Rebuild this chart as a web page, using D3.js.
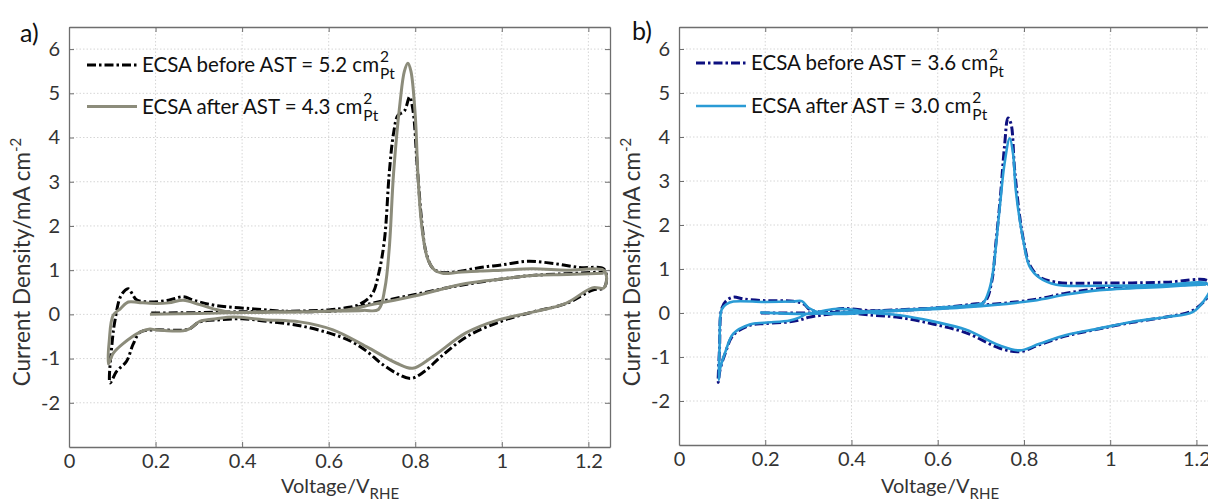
<!DOCTYPE html>
<html><head><meta charset="utf-8">
<script src="https://cdn.jsdelivr.net/npm/d3@7"></script>
<style>body{margin:0;background:#fff} svg{display:block} text{font-family:Lato,"Open Sans",sans-serif;}</style>
</head><body><svg id="c" width="1208" height="504"></svg>
<script>
// ---------- data ----------
const xTicks = [0, 0.2, 0.4, 0.6, 0.8, 1, 1.2];
const yTicks = [-2, -1, 0, 1, 2, 3, 4, 5, 6];
const xDomain = [0, 1.25];
const yDomain = [-3, 6.5];

const legendA = ["ECSA before AST = 5.2 cm", "ECSA after AST = 4.3 cm"];
const legendB = ["ECSA before AST = 3.6 cm", "ECSA after AST = 3.0 cm"];

// Panel a, before AST (voltage V, current density mA cm-2)
const aBeforeV = [0.19,0.3,0.4,0.5,0.6,0.64,0.67,0.7,0.715,0.729,0.74,0.75,0.76,0.775,0.787,0.795,0.805,0.815,0.825,0.84,0.86,0.9,0.95,1.0,1.06,1.12,1.18,1.235,
  1.242,1.236,1.21,1.15,1.07,1.0,0.92,0.86,0.82,0.79,0.76,0.72,0.69,0.65,0.6,0.53,0.45,0.4,0.35,0.3,0.278,0.25,0.2,0.165,0.148,0.133,0.11,0.095,
  0.1,0.106,0.118,0.13,0.137,0.147,0.156,0.187,0.23,0.264,0.285,0.302,0.34,0.418,0.5,0.55,0.6,0.64,0.7,0.8,0.9,1.0,1.07,1.15,1.235];
const aBeforeJ = [0.03,0.04,0.06,0.07,0.1,0.15,0.22,0.45,0.9,1.7,3.2,4.1,4.5,4.6,4.92,4.6,3.3,2.1,1.4,1.05,0.95,0.97,1.06,1.12,1.2,1.15,1.06,1.03,
  0.85,0.6,0.55,0.25,0.05,-0.15,-0.5,-0.95,-1.3,-1.45,-1.35,-1.1,-0.85,-0.6,-0.42,-0.25,-0.15,-0.1,-0.12,-0.18,-0.33,-0.36,-0.35,-0.4,-0.68,-1.06,-1.29,-1.55,
  -0.6,-0.15,0.38,0.55,0.58,0.45,0.33,0.28,0.32,0.4,0.33,0.28,0.2,0.13,0.07,0.06,0.07,0.1,0.25,0.45,0.65,0.8,0.88,0.92,0.96];

// Panel a, after AST
const aAfterV = [0.187,0.3,0.4,0.5,0.6,0.68,0.715,0.73,0.74,0.75,0.765,0.775,0.783,0.79,0.8,0.806,0.812,0.819,0.829,0.845,0.863,0.9,0.95,1.0,1.07,1.15,1.235,
  1.242,1.236,1.209,1.148,1.071,0.994,0.917,0.84,0.794,0.756,0.687,0.61,0.533,0.45,0.38,0.34,0.302,0.278,0.264,0.2,0.187,0.164,0.125,0.102,0.091,
  0.093,0.102,0.118,0.137,0.16,0.187,0.23,0.264,0.302,0.34,0.38,0.45,0.55,0.64,0.7,0.8,0.917,1.0,1.071,1.15,1.235];
const aAfterJ = [0.0,0.02,0.04,0.05,0.07,0.09,0.11,0.6,1.5,3.2,4.8,5.5,5.68,5.5,4.5,3.2,2.3,1.7,1.25,1.0,0.93,0.95,0.98,1.0,1.03,1.0,1.0,
  0.85,0.6,0.6,0.25,0.05,-0.12,-0.42,-0.96,-1.22,-1.1,-0.73,-0.35,-0.17,-0.12,-0.06,-0.1,-0.16,-0.33,-0.37,-0.35,-0.33,-0.4,-0.66,-0.88,-1.12,
  -0.6,-0.02,0.12,0.28,0.27,0.25,0.26,0.32,0.22,0.11,0.04,0.06,0.06,0.1,0.22,0.42,0.7,0.8,0.88,0.9,0.93];

// Panel b, before AST
const bBeforeV = [0.19,0.3,0.4,0.5,0.6,0.68,0.71,0.725,0.735,0.745,0.755,0.763,0.77,0.778,0.79,0.8,0.813,0.836,0.875,0.975,1.13,1.225,
  1.235,1.225,1.19,1.13,1.052,0.975,0.898,0.836,0.79,0.744,0.666,0.589,0.512,0.45,0.38,0.33,0.3,0.28,0.257,0.2,0.164,0.126,0.107,0.095,0.091,
  0.094,0.099,0.11,0.126,0.15,0.2,0.265,0.29,0.303,0.33,0.38,0.45,0.512,0.666,0.821,0.898,0.975,1.13,1.225];
const bBeforeJ = [0.0,0.0,0.03,0.07,0.12,0.2,0.27,0.7,1.6,2.6,3.8,4.43,4.3,3.3,2.2,1.6,1.1,0.82,0.7,0.68,0.7,0.74,
  0.6,0.35,0.05,-0.09,-0.21,-0.36,-0.52,-0.72,-0.88,-0.8,-0.45,-0.25,-0.1,-0.05,0.0,-0.05,-0.1,-0.16,-0.2,-0.24,-0.28,-0.5,-0.92,-1.3,-1.58,
  -0.8,0.1,0.28,0.36,0.32,0.28,0.27,0.2,0.08,0.02,0.1,0.05,0.06,0.15,0.3,0.45,0.55,0.62,0.67];

// Panel b, after AST
const bAfterV = [0.188,0.3,0.4,0.5,0.6,0.68,0.705,0.72,0.728,0.744,0.755,0.767,0.775,0.781,0.798,0.813,0.836,0.875,0.975,1.13,1.222,
  1.232,1.219,1.191,1.13,1.052,0.975,0.898,0.836,0.79,0.744,0.666,0.589,0.512,0.45,0.4,0.36,0.32,0.296,0.28,0.257,0.2,0.164,0.126,0.107,0.095,0.092,
  0.094,0.099,0.11,0.126,0.2,0.265,0.285,0.3,0.33,0.38,0.45,0.512,0.666,0.821,0.898,0.975,1.13,1.222];
const bAfterJ = [0.01,-0.02,0.02,0.06,0.12,0.18,0.23,0.55,0.93,2.42,3.4,3.97,3.6,2.8,1.67,1.06,0.8,0.64,0.62,0.64,0.68,
  0.55,0.3,0.02,-0.09,-0.2,-0.35,-0.5,-0.7,-0.85,-0.74,-0.38,-0.19,-0.05,0.0,0.08,0.09,0.02,-0.02,-0.1,-0.17,-0.22,-0.26,-0.47,-0.9,-1.28,-1.52,
  -0.8,0.08,0.2,0.26,0.25,0.26,0.27,0.12,0.0,-0.02,0.02,0.05,0.13,0.28,0.42,0.52,0.6,0.65];

// ---------- drawing ----------
const svg = d3.select("#c");

function panel(opt) {
  const x = d3.scaleLinear().domain(xDomain).range([opt.left, opt.left + opt.w]);
  const y = d3.scaleLinear().domain(yDomain).range([opt.bottom, opt.top]);
  const g = svg.append("g");

  // grid
  g.append("g").selectAll("line").data(xTicks.slice(1)).join("line")
    .attr("x1", d => x(d)).attr("x2", d => x(d)).attr("y1", opt.top).attr("y2", opt.bottom)
    .attr("stroke", "#d6d6d6").attr("stroke-width", 1).attr("stroke-dasharray", "1.5,2");
  g.append("g").selectAll("line").data(yTicks).join("line")
    .attr("x1", opt.left).attr("x2", opt.left + opt.w).attr("y1", d => y(d)).attr("y2", d => y(d))
    .attr("stroke", "#d6d6d6").attr("stroke-width", 1).attr("stroke-dasharray", "1.5,2");

  // axes
  const axCol = "#6e6e6e";
  const fmt = d => String(d);
  const styleAxis = sel => {
    sel.select(".domain").attr("stroke", axCol).attr("stroke-width", 1.3);
    sel.selectAll(".tick line").attr("stroke", axCol);
    sel.selectAll(".tick text").attr("fill", "#333").attr("font-size", 20).attr("font-family", "Lato");
  };
  g.append("g").attr("transform", `translate(0,${opt.bottom})`)
    .call(d3.axisBottom(x).tickValues(xTicks).tickFormat(fmt).tickSizeInner(-5).tickSizeOuter(0).tickPadding(7))
    .call(styleAxis);
  g.append("g").attr("transform", `translate(0,${opt.top})`)
    .call(d3.axisTop(x).tickValues(xTicks).tickFormat("").tickSizeInner(-5).tickSizeOuter(0))
    .call(styleAxis);
  g.append("g").attr("transform", `translate(${opt.left},0)`)
    .call(d3.axisLeft(y).tickValues(yTicks).tickFormat(fmt).tickSizeInner(-5).tickSizeOuter(0).tickPadding(9))
    .call(styleAxis);
  g.append("g").attr("transform", `translate(${opt.left + opt.w},0)`)
    .call(d3.axisRight(y).tickValues(yTicks).tickFormat("").tickSizeInner(-5).tickSizeOuter(0))
    .call(styleAxis);

  // curves
  const line = d3.line().x(d => x(d[0])).y(d => y(d[1])).curve(d3.curveCatmullRom.alpha(0.5));
  opt.series.forEach(s => {
    g.append("path").datum(d3.zip(s.v, s.j)).attr("d", line)
      .attr("fill", "none").attr("stroke", s.color).attr("stroke-width", s.width)
      .attr("stroke-dasharray", s.dash || null).attr("stroke-linejoin", "round");
  });

  // legend
  opt.series.forEach((s, i) => {
    const ly = opt.legY[i];
    g.append("line").attr("x1", opt.legX).attr("x2", opt.legX + 50).attr("y1", ly).attr("y2", ly)
      .attr("stroke", s.color).attr("stroke-width", s.width).attr("stroke-dasharray", s.dash || null);
    const t = g.append("text").attr("x", opt.legX + 55).attr("y", ly + 7)
      .attr("font-size", 20.5).attr("fill", "#111").text(opt.legend[i]);
    const tx = opt.legX + 55 + t.node().getComputedTextLength() + 1;
    g.append("text").attr("x", tx).attr("y", ly - 3).attr("font-size", 15.5).attr("fill", "#111").text("2");
    g.append("text").attr("x", tx).attr("y", ly + 14).attr("font-size", 15.5).attr("fill", "#111").text("Pt");
  });

  // axis labels
  const yl = g.append("text").attr("transform", `translate(${opt.ylabX},${opt.ylabY}) rotate(-90)`)
    .attr("text-anchor", "middle").attr("font-size", 22.5).attr("fill", "#333");
  yl.append("tspan").text("Current Density/mA cm");
  yl.append("tspan").attr("dy", -9).attr("font-size", 15).text("-2");

  const xl = g.append("text").attr("x", opt.xlabX).attr("y", 493).attr("text-anchor", "middle")
    .attr("font-size", 20).attr("fill", "#333");
  xl.append("tspan").text("Voltage/V");
  xl.append("tspan").attr("dy", 6).attr("font-size", 15).text("RHE");

  svg.append("text").attr("x", opt.tagX).attr("y", opt.tagY).attr("font-size", 25).attr("fill", "#111").text(opt.tag);
}

panel({
  left: 69, w: 541, top: 27, bottom: 447,
  legX: 87, legY: [65, 106.5], legend: legendA,
  ylabX: 30, ylabY: 262, xlabX: 340, tag: "a)", tagX: 20, tagY: 42,
  series: [
    { v: aBeforeV, j: aBeforeJ, color: "#000000", width: 3, dash: "9,3,2.5,3" },
    { v: aAfterV, j: aAfterJ, color: "#8c8c7b", width: 3 }
  ]
});

panel({
  left: 679, w: 539, top: 27, bottom: 445,
  legX: 696, legY: [63, 106], legend: legendB,
  ylabX: 640, ylabY: 262, xlabX: 940, tag: "b)", tagX: 632, tagY: 40,
  series: [
    { v: bBeforeV, j: bBeforeJ, color: "#0d1080", width: 3, dash: "9,3,2.5,3" },
    { v: bAfterV, j: bAfterJ, color: "#2a9bd5", width: 2.6 }
  ]
});
</script>
</body></html>
